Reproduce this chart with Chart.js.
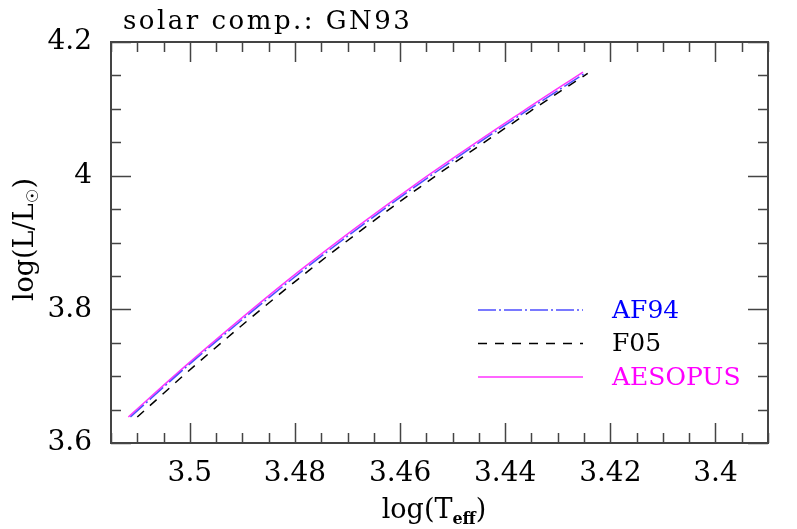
<!DOCTYPE html>
<html>
<head>
<meta charset="utf-8">
<script src="https://cdn.jsdelivr.net/npm/chart.js@4.4.1/dist/chart.umd.min.js"></script>
<style>
  html, body { margin: 0; padding: 0; background: #fff; }
  #wrap { width: 797px; height: 529px; }
</style>
</head>
<body>
<div id="wrap"><canvas id="hrd"></canvas></div>
<script>
// tracks in the HR diagram
const teffAF94 = [3.5113, 3.4996, 3.4785, 3.4574, 3.4363, 3.4247]
const lumAF94 = [3.639, 3.721, 3.858, 3.982, 4.095, 4.154]
const teffF05 = [3.5100, 3.4983, 3.4772, 3.4562, 3.4353, 3.4243]
const lumF05 = [3.639, 3.721, 3.859, 3.983, 4.096, 4.153]
const teffAESOPUS = [3.5117, 3.5000, 3.4789, 3.4578, 3.4367, 3.4252]
const lumAESOPUS = [3.639, 3.721, 3.859, 3.983, 4.096, 4.155]

const xTicks = [3.5, 3.48, 3.46, 3.44, 3.42, 3.4]
const yTicks = [3.6, 3.8, 4, 4.2]
const legendNames = ['AF94', 'F05', 'AESOPUS']
const legendText = ['#0000ff', '#000000', '#ff00ff']

const serif = '"DejaVu Serif", serif'
const pts = (xs, ys) => xs.map((x, i) => ({ x: x, y: ys[i] }))

// frame, inward ticks on all four sides, legend and titles
const framePlugin = {
  id: 'frame',
  afterDraw (chart) {
    const { ctx, chartArea: a, scales } = chart
    const xs = scales.x
    const ys = scales.y
    ctx.save()
    ctx.strokeStyle = '#444'
    ctx.lineWidth = 2
    ctx.strokeRect(a.left, a.top, a.right - a.left, a.bottom - a.top)
    ctx.lineWidth = 1.5
    ctx.beginPath()
    for (let v = 3.39; v <= 3.5151; v += 0.005) {
      const p = Math.round(xs.getPixelForValue(v)) + 0.5
      const major = Math.abs(v / 0.02 - Math.round(v / 0.02)) < 1e-6
      const len = major ? 20 : 10
      ctx.moveTo(p, a.bottom); ctx.lineTo(p, a.bottom - len)
      ctx.moveTo(p, a.top); ctx.lineTo(p, a.top + len)
    }
    for (let v = 3.6; v <= 4.2001; v += 0.05) {
      const p = Math.round(ys.getPixelForValue(v)) + 0.5
      const major = Math.abs(v / 0.2 - Math.round(v / 0.2)) < 1e-6
      const len = major ? 20 : 10
      ctx.moveTo(a.left, p); ctx.lineTo(a.left + len, p)
      ctx.moveTo(a.right, p); ctx.lineTo(a.right - len, p)
    }
    ctx.stroke()

    // legend
    const ds = chart.data.datasets
    ds.forEach((d, i) => {
      const y = 310 + i * 33.5
      ctx.strokeStyle = d.borderColor
      ctx.lineWidth = 1.5
      ctx.setLineDash(d.borderDash || [])
      ctx.beginPath()
      ctx.moveTo(478, y); ctx.lineTo(583, y)
      ctx.stroke()
      ctx.setLineDash([])
      ctx.fillStyle = legendText[i]
      ctx.font = '25px ' + serif
      ctx.textBaseline = 'middle'
      ctx.textAlign = 'left'
      ctx.fillText(legendNames[i], 612, y + 1)
    })

    // title
    ctx.fillStyle = '#000'
    ctx.font = '26px ' + serif
    ctx.textBaseline = 'alphabetic'
    ctx.letterSpacing = '2.5px'
    ctx.fillText('solar comp.: GN93', 123, 29)
    ctx.letterSpacing = '0px'

    // x axis title with subscript
    ctx.font = '27px ' + serif
    const w1 = ctx.measureText('log(T').width
    ctx.font = 'bold 16px ' + serif
    const w2 = ctx.measureText('eff').width
    ctx.font = '27px ' + serif
    const w3 = ctx.measureText(')').width
    let x0 = 434 - (w1 + w2 + w3) / 2
    ctx.fillText('log(T', x0, 518)
    ctx.font = 'bold 16px ' + serif
    ctx.fillText('eff', x0 + w1, 524)
    ctx.font = '27px ' + serif
    ctx.fillText(')', x0 + w1 + w2, 518)

    // y axis title with subscript sun symbol
    ctx.translate(33, 240)
    ctx.rotate(-Math.PI / 2)
    const v1 = ctx.measureText('log(L/L').width
    ctx.font = '16px ' + serif
    const v2 = ctx.measureText('\u2609').width
    ctx.font = '27px ' + serif
    const v3 = ctx.measureText(')').width
    x0 = -(v1 + v2 + v3) / 2
    ctx.fillText('log(L/L', x0, 0)
    ctx.font = '16px ' + serif
    ctx.fillText('\u2609', x0 + v1, 5)
    ctx.font = '27px ' + serif
    ctx.fillText(')', x0 + v1 + v2 + 1, 0)
    ctx.restore()
  }
}

const track = (label, xs, ys, color, dash) => ({
  label: label,
  data: pts(xs, ys),
  showLine: true,
  borderColor: color,
  borderWidth: 1.5,
  borderDash: dash,
  pointRadius: 0,
  cubicInterpolationMode: 'monotone',
  fill: false
})

// eslint-disable-next-line no-unused-vars
const hrChart = new Chart(document.getElementById('hrd'), {
  type: 'scatter',
  data: {
    datasets: [
      track('AF94', teffAF94, lumAF94, '#4d4dff', [18, 3, 2, 3]),
      track('F05', teffF05, lumF05, '#000000', [9, 8]),
      track('AESOPUS', teffAESOPUS, lumAESOPUS, '#ff33ff', [])
    ]
  },
  options: {
    responsive: true,
    maintainAspectRatio: false,
    animation: false,
    layout: { padding: { top: 42, right: 29, left: 0, bottom: 0 } },
    plugins: {
      legend: { display: false },
      tooltip: { enabled: false }
    },
    scales: {
      x: {
        type: 'linear',
        reverse: true,
        min: 3.39,
        max: 3.515,
        afterBuildTicks: (s) => { s.ticks = xTicks.map(v => ({ value: v })) },
        afterFit: (s) => { s.height = 86 },
        grid: { display: false, drawTicks: false },
        border: { display: false },
        ticks: {
          padding: 14,
          color: '#000',
          font: { family: serif, size: 28 },
          maxRotation: 0,
          autoSkip: false,
          callback: (v) => String(Number(v.toFixed(2)))
        }
      },
      y: {
        type: 'linear',
        min: 3.6,
        max: 4.2,
        afterBuildTicks: (s) => { s.ticks = yTicks.map(v => ({ value: v })) },
        afterFit: (s) => { s.width = 111 },
        grid: { display: false, drawTicks: false },
        border: { display: false },
        ticks: {
          padding: 19,
          color: '#000',
          font: { family: serif, size: 28 },
          autoSkip: false,
          callback: (v) => String(Number(v.toFixed(2)))
        }
      }
    }
  },
  plugins: [framePlugin]
})
</script>
</body>
</html>
